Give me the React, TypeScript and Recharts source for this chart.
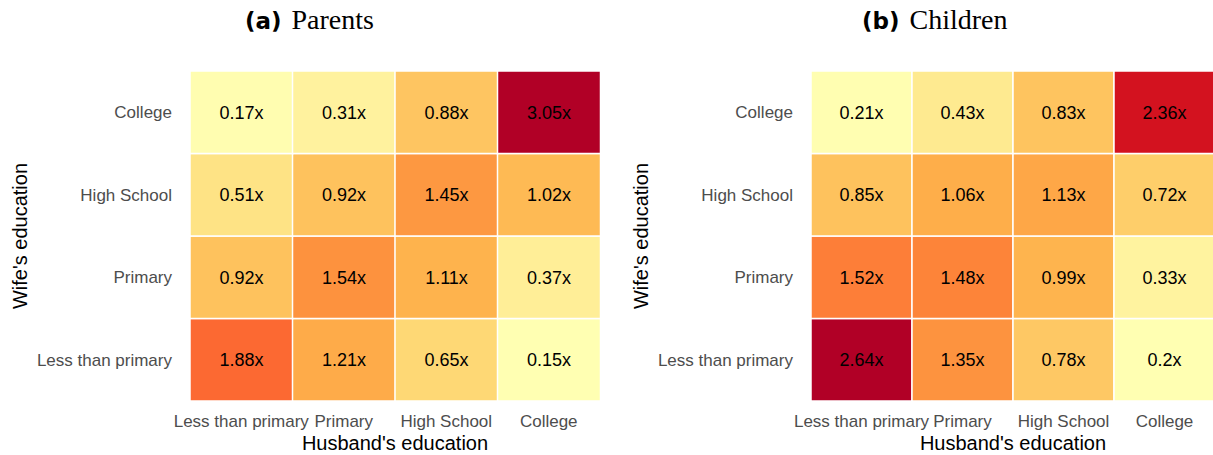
import { BarChart, Bar, XAxis, YAxis, Cell, LabelList, Label } from 'recharts';

const HUSBAND = ['Less than primary', 'Primary', 'High School', 'College'];
const WIFE = ['Less than primary', 'Primary', 'High School', 'College'];

// rows = wife's education (bottom to top), columns = husband's education
const PARENTS_LTP = [1.88, 1.21, 0.65, 0.15];
const PARENTS_PRI = [0.92, 1.54, 1.11, 0.37];
const PARENTS_HS = [0.51, 0.92, 1.45, 1.02];
const PARENTS_COL = [0.17, 0.31, 0.88, 3.05];

const CHILDREN_LTP = [2.64, 1.35, 0.78, 0.2];
const CHILDREN_PRI = [1.52, 1.48, 0.99, 0.33];
const CHILDREN_HS = [0.85, 1.06, 1.13, 0.72];
const CHILDREN_COL = [0.21, 0.43, 0.83, 2.36];

const YLORRD = ['#ffffb2', '#fed976', '#feb24c', '#fd8d3c', '#fc4e2a', '#e31a1c', '#b10026'];

function hex(c: string) {
  return [1, 3, 5].map((i) => parseInt(c.slice(i, i + 2), 16));
}

function colorAt(t: number) {
  const p = Math.max(0, Math.min(1, t)) * (YLORRD.length - 1);
  const i = Math.min(Math.floor(p), YLORRD.length - 2);
  const f = p - i;
  const a = hex(YLORRD[i]);
  const b = hex(YLORRD[i + 1]);
  const m = a.map((v, k) => Math.round(v + (b[k] - v) * f));
  return `rgb(${m[0]},${m[1]},${m[2]})`;
}

const FONT = '"Liberation Sans", Arial, sans-serif';

function Heatmap({ rows, width, left }: { rows: number[][]; width: number; left: number }) {
  const all = rows.flat();
  const lo = Math.min(...all);
  const hi = Math.max(...all);
  const data = HUSBAND.map((h, c) => {
    const d: Record<string, number | string> = { name: h };
    rows.forEach((r, k) => {
      d[`r${k}`] = 1;
      d[`v${k}`] = r[c];
    });
    return d;
  });

  return (
    <BarChart
      width={width}
      height={455}
      data={data}
      barCategoryGap={0}
      margin={{ top: 71, right: 0, bottom: 0, left: 0 }}
      style={{ position: 'absolute', left, top: 0 }}
    >
      <XAxis
        dataKey="name"
        interval={0}
        axisLine={false}
        tickLine={false}
        height={54}
        tickMargin={8}
        tick={{ fill: '#4d4d4d', fontSize: 17, fontFamily: FONT }}
      >
        <Label
          content={({ viewBox }: any) => (
            <text
              x={viewBox.x + viewBox.width / 2}
              y={450}
              textAnchor="middle"
              fontSize={20}
              fontFamily={FONT}
              fill="#000"
            >
              Husband's education
            </text>
          )}
        />
      </XAxis>
      <YAxis
        type="number"
        domain={[0, 4]}
        ticks={[0.5, 1.5, 2.5, 3.5]}
        tickFormatter={(v: number) => WIFE[Math.floor(v)]}
        axisLine={false}
        tickLine={false}
        width={190}
        tickMargin={12}
        tick={{ fill: '#4d4d4d', fontSize: 17, fontFamily: FONT }}
      >
        <Label
          content={({ viewBox }: any) => {
            const cx = viewBox.x + 27;
            const cy = viewBox.y + viewBox.height / 2;
            return (
              <text
                x={cx}
                y={cy}
                transform={`rotate(-90 ${cx} ${cy})`}
                textAnchor="middle"
                fontSize={20}
                fontFamily={FONT}
                fill="#000"
              >
                Wife's education
              </text>
            );
          }}
        />
      </YAxis>
      {rows.map((r, k) => (
        <Bar
          key={k}
          dataKey={`r${k}`}
          stackId="cells"
          stroke="#fff"
          strokeWidth={1.5}
          isAnimationActive={false}
        >
          {r.map((v, c) => (
            <Cell key={c} fill={colorAt((v - lo) / (hi - lo))} />
          ))}
          <LabelList
            dataKey={`v${k}`}
            position="center"
            formatter={(v: any) => `${v}x`}
            fill="#000"
            fontSize={18}
            fontFamily={FONT}
          />
        </Bar>
      ))}
    </BarChart>
  );
}

function Title({ tag, text, x }: { tag: string; text: string; x: number }) {
  return (
    <div
      style={{
        position: 'absolute',
        left: x,
        top: 3,
        whiteSpace: 'nowrap',
        fontSize: 28,
        lineHeight: '34px',
      }}
    >
      <span style={{ fontFamily: '"DejaVu Sans", sans-serif', fontWeight: 'bold', fontSize: 23 }}>{tag}</span>
      <span style={{ fontFamily: '"Liberation Serif", serif', marginLeft: 10 }}>{text}</span>
    </div>
  );
}

export default function App() {
  return (
    <div
      style={{
        position: 'absolute',
        left: 0,
        top: 0,
        width: 1213,
        height: 455,
        background: '#fff',
        overflow: 'hidden',
      }}
    >
      <Heatmap rows={[PARENTS_LTP, PARENTS_PRI, PARENTS_HS, PARENTS_COL]} width={600} left={0} />
      <Heatmap rows={[CHILDREN_LTP, CHILDREN_PRI, CHILDREN_HS, CHILDREN_COL]} width={594} left={621} />
      <Title tag="(a)" text="Parents" x={245} />
      <Title tag="(b)" text="Children" x={862} />
    </div>
  );
}
